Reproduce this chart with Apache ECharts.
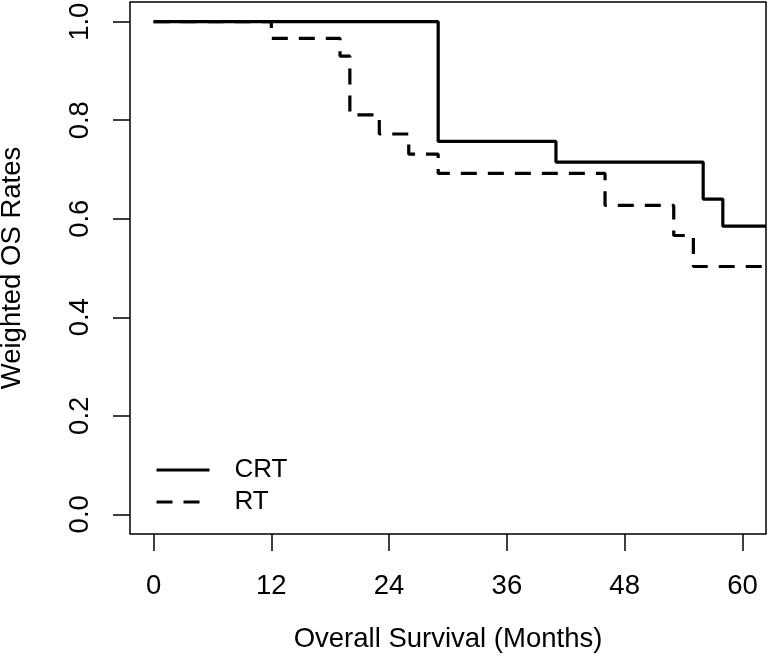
<!DOCTYPE html>
<html>
<head>
<meta charset="utf-8">
<script src="https://cdn.jsdelivr.net/npm/echarts@6/dist/echarts.min.js"></script>
<style>
html,body{margin:0;padding:0;background:#fff;}
#chart{width:768px;height:671px;}
</style>
</head>
<body>
<div id="chart"></div>
<script>
// Kaplan-Meier style step data (months, weighted OS rate)
const crtMonths = [0, 29, 41, 56, 58, 62.4];
const crtRates  = [1.0, 0.757, 0.715, 0.640, 0.585, 0.585];
const rtMonths  = [0, 12, 19, 20, 23, 26, 29, 46, 53, 55, 62.4];
const rtRates   = [1.0, 0.966, 0.930, 0.811, 0.772, 0.731, 0.692, 0.627, 0.566, 0.503, 0.503];
const xTicks = [0, 12, 24, 36, 48, 60];
const yTicks = [0.0, 0.2, 0.4, 0.6, 0.8, 1.0];
const seriesNames = ['CRT', 'RT'];

const FONT = 'Liberation Sans, Arial, Helvetica, sans-serif';
const FS = 27.5;

function pairs(xs, ys) { return xs.map((x, i) => [x, ys[i]]); }

const chart = echarts.init(document.getElementById('chart'), null, {renderer: 'canvas'});
chart.setOption({
  animation: false,
  backgroundColor: '#ffffff',
  grid: {
    left: 130, top: 2, right: 2, bottom: 137,
    outerBoundsMode: 'none', containLabel: false,
    show: true, borderColor: '#000', borderWidth: 1.5, backgroundColor: 'transparent'
  },
  legend: {
    orient: 'vertical',
    left: 155, top: 455, padding: 0,
    itemWidth: 53, itemHeight: 14, itemGap: 2,
    itemStyle: {opacity: 0},
    lineStyle: {width: 3, color: '#000'},
    textStyle: {fontFamily: FONT, fontSize: 26, color: '#000', lineHeight: 30, padding: [0, 0, 0, 20]},
    data: seriesNames
  },
  xAxis: {
    type: 'value', min: -2.4, max: 62.4,
    name: 'Overall Survival (Months)', nameLocation: 'middle', nameGap: 91,
    nameTextStyle: {fontFamily: FONT, fontSize: FS, color: '#000'},
    axisLine: {show: false, onZero: false},
    splitLine: {show: false},
    axisTick: {show: true, inside: false, length: 17, lineStyle: {color: '#000', width: 1.5}, customValues: xTicks},
    axisLabel: {show: true, margin: 38, fontFamily: FONT, fontSize: FS, color: '#000', customValues: xTicks,
      formatter: v => String(v)}
  },
  yAxis: {
    type: 'value', min: -0.04, max: 1.04,
    name: 'Weighted OS Rates', nameLocation: 'middle', nameGap: 104, nameRotate: 90,
    nameTextStyle: {fontFamily: FONT, fontSize: FS, color: '#000'},
    axisLine: {show: false, onZero: false},
    splitLine: {show: false},
    axisTick: {show: true, inside: false, length: 17, lineStyle: {color: '#000', width: 1.5}, customValues: yTicks},
    axisLabel: {show: true, rotate: 90, margin: 36, fontFamily: FONT, fontSize: FS, color: '#000', customValues: yTicks,
      formatter: v => Number(v).toFixed(1)}
  },
  series: [
    {
      name: seriesNames[0], type: 'line', step: 'end', symbol: 'none', showSymbol: false,
      data: pairs(crtMonths, crtRates),
      lineStyle: {color: '#000', width: 3.2, type: 'solid'},
      itemStyle: {color: '#000'}
    },
    {
      name: seriesNames[1], type: 'line', step: 'end', symbol: 'none', showSymbol: false,
      data: pairs(rtMonths, rtRates),
      lineStyle: {color: '#000', width: 3.2, type: [16, 11]},
      itemStyle: {color: '#000'}
    }
  ]
});
</script>
</body>
</html>
